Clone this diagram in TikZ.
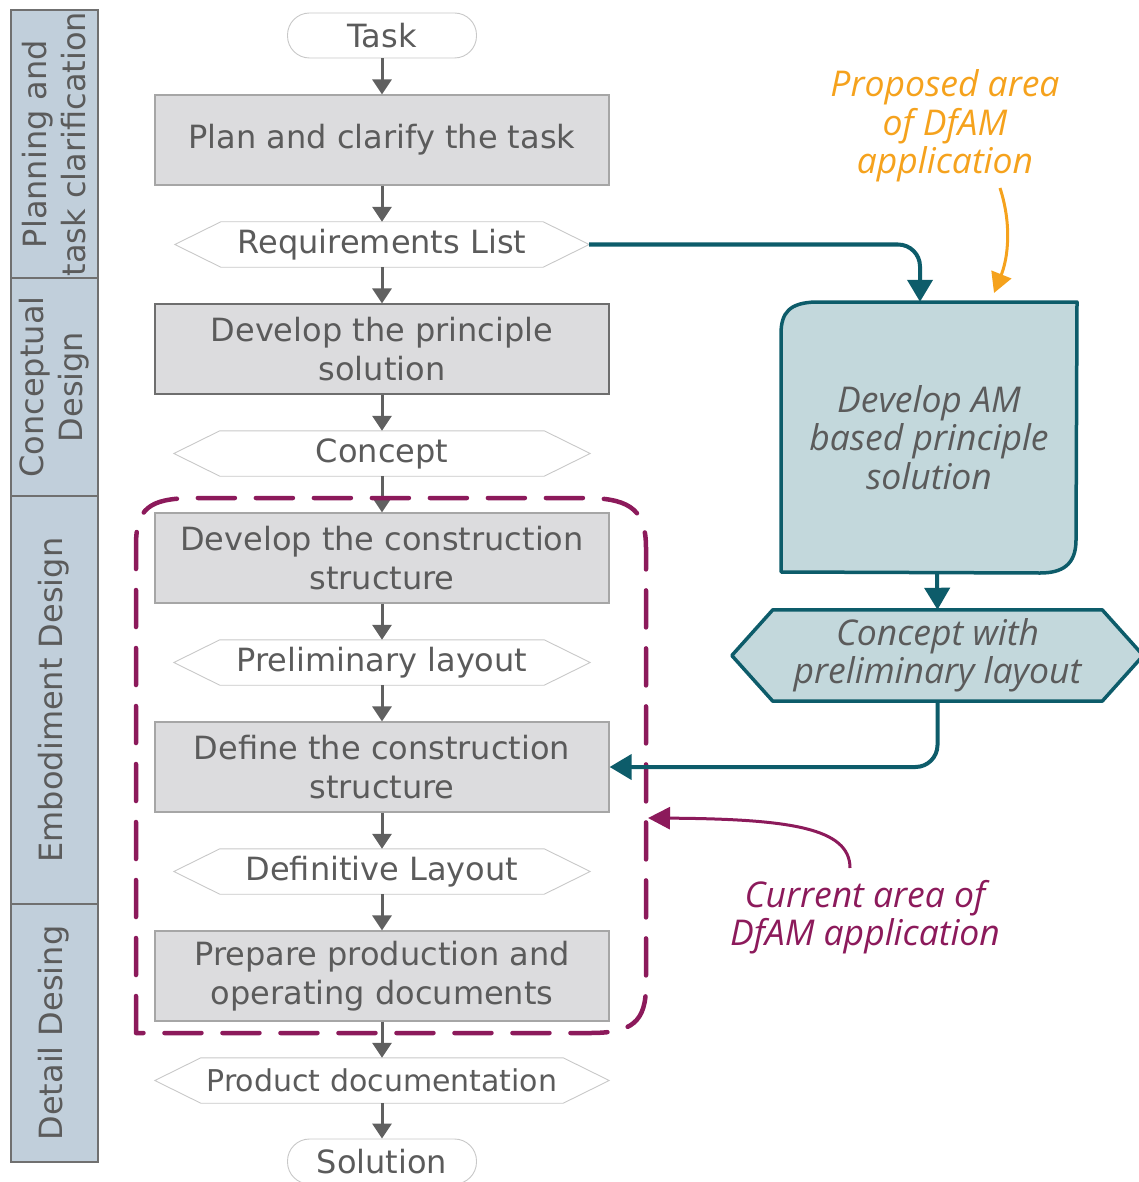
\documentclass[tikz,border=0pt]{standalone}
\usepackage{fontspec}
\setmainfont{DejaVu Sans}
\newfontfamily\handfont{Open Sans}
\usetikzlibrary{arrows.meta,backgrounds}
\definecolor{txtgray}{HTML}{5B5B5B}
\definecolor{boxfill}{HTML}{DCDCDE}
\definecolor{boxedge}{HTML}{A6A6A6}
\definecolor{boxedgedark}{HTML}{6E6E6E}
\definecolor{hexedge}{HTML}{C8C8C8}
\definecolor{phasefill}{HTML}{C1CFDB}
\definecolor{phaseedge}{HTML}{707070}
\definecolor{tealc}{HTML}{0D5C6A}
\definecolor{tealfill}{HTML}{C3D8DC}
\definecolor{purp}{HTML}{8C1A5B}
\definecolor{orng}{HTML}{F5A21D}
\definecolor{arrgray}{HTML}{606060}
\newcommand{\mainfs}{\fontsize{32}{39}\selectfont}
\newcommand{\handfs}{\handfont\itshape\fontsize{35.5}{38.5}\selectfont}
\begin{document}
\begin{tikzpicture}[x=1pt,y=-1pt,
  procbox/.style={draw=boxedge, fill=boxfill, line width=1.2pt, minimum width=454pt, minimum height=90pt, inner sep=0pt, text=txtgray, font=\mainfs, align=center},
  hexnode/.style={minimum width=416pt, minimum height=45pt, inner sep=0pt, text=txtgray, font=\mainfs, align=center},
  hexline/.style={draw=hexedge, line width=0.9pt},
  pill/.style={draw=hexedge, fill=white, line width=0.9pt, rounded corners=22pt, minimum width=189pt, minimum height=45pt, inner sep=0pt, text=txtgray, font=\mainfs},
  phasebox/.style={draw=phaseedge, fill=phasefill, line width=1.5pt},
  phasetext/.style={rotate=90, text=txtgray, font=\mainfs, align=center, inner sep=0pt},
  flow/.style={draw=arrgray, line width=3pt, -{Triangle[length=15pt,width=19pt]}},
  tealarrow/.style={draw=tealc, line width=4pt, rounded corners=22pt, -{Triangle[length=22pt,width=25pt]}},
  handtxt/.style={font=\handfs, align=center, inner sep=0pt}
]
\useasboundingbox (0,0) rectangle (1139,1182);

% phase column
\draw[phasebox] (11,10) rectangle (98,278);
\draw[phasebox] (11,278) rectangle (98,496);
\draw[phasebox] (11,496) rectangle (98,904);
\draw[phasebox] (11,904) rectangle (98,1162);
\node[phasetext] (ph1) at (54,144) {Planning and\\task clarification};
\node[phasetext] (ph2) at (54,387) {Conceptual\\Design};
\node[phasetext] (ph3) at (54,700) {Embodiment Design};
\node[phasetext] (ph4) at (54,1033) {Detail Desing};

% main flow nodes
\node[pill] (task) at (382,35.5) {Task};
\node[procbox] (plan) at (382,140) {Plan and clarify the task};
\node[hexnode, minimum width=414pt] (req) at (382,244.5) {Requirements List};
\node[procbox, draw=boxedgedark] (prin) at (382,349) {Develop the principle\\solution};
\node[hexnode] (conc) at (382,453.5) {Concept};
\node[procbox] (devc) at (382,558) {Develop the construction\\structure};
\node[hexnode] (prel) at (382,662.5) {Preliminary layout};
\node[procbox] (defc) at (382,767) {Define the construction\\structure};
\node[hexnode] (defl) at (382,871.5) {Definitive Layout};
\node[procbox] (prep) at (382,976) {Prepare production and\\operating documents};
\node[hexnode, minimum width=454pt, font=\fontsize{30}{36}\selectfont] (prod) at (382,1080.5) {Product documentation};
\node[pill] (sol) at (382,1161.5) {Solution};

% hexagon outlines
\foreach \n in {req,conc,prel,defl,prod}{
  \draw[hexline] (\n.west) -- ([xshift=46pt]\n.north west) -- ([xshift=-46pt]\n.north east) -- (\n.east) -- ([xshift=-46pt]\n.south east) -- ([xshift=46pt]\n.south west) -- cycle;
}

% gray flow arrows
\draw[flow] (task.south) -- (plan.north);
\draw[flow] (plan.south) -- (req.north);
\draw[flow] (req.south) -- (prin.north);
\draw[flow] (prin.south) -- (conc.north);
\draw[flow] (conc.south) -- (devc.north);
\draw[flow] (devc.south) -- (prel.north);
\draw[flow] (prel.south) -- (defc.north);
\draw[flow] (defc.south) -- (defl.north);
\draw[flow] (defl.south) -- (prep.north);
\draw[flow] (prep.south) -- (prod.north);
\draw[flow] (prod.south) -- (sol.north);

% dashed current area frame
\draw[purp, line width=4.5pt, dash pattern=on 37pt off 21pt, line cap=round]
  (136,1033) -- (136,545) .. controls (136,508) and (150,499) .. (190,498)
  -- (590,498) .. controls (632,499) and (646,512) .. (646,548)
  -- (646,985) .. controls (646,1022) and (632,1033) .. (590,1033) -- cycle;

% right side: AM box
\node[handtxt, text=txtgray, minimum width=296pt, minimum height=271pt] (am) at (929,437.5) {Develop AM\\based principle\\solution};
\begin{scope}[on background layer]
\draw[tealc, fill=tealfill, line width=3.5pt, line join=round] (781,572) -- (781,334) .. controls (781,312) and (790,303) .. (815,302)
  -- (1077,302) -- (1076,540) .. controls (1076,565) and (1062,573) .. (1040,573) -- cycle;
\end{scope}

% concept with preliminary layout hexagon
\node[handtxt, text=txtgray, minimum width=411pt, minimum height=91pt] (cwp) at (937.5,655.5) {Concept with\\preliminary layout};
\begin{scope}[on background layer]
\draw[tealc, fill=tealfill, line width=3.5pt, line join=round]
  (cwp.west) -- ([xshift=41pt]cwp.north west) -- ([xshift=-41pt]cwp.north east) -- (cwp.east)
  -- ([xshift=-41pt]cwp.south east) -- ([xshift=41pt]cwp.south west) -- cycle;
\end{scope}

% teal connectors
\draw[tealarrow] (req.east) -| ([xshift=-9pt]am.north);
\draw[tealarrow, rounded corners=0pt] ([xshift=8pt]am.south) -- (cwp.north);
\draw[tealarrow] (cwp.south) |- (defc.east);

% annotations
\node[handtxt, text=orng] (prop) at (945,126) {Proposed area\\of DfAM\\application};
\coordinate (propstart) at (1000,188);
\coordinate (propend) at (994,293);
\draw[orng, line width=3pt, -{Triangle[length=20pt,width=21pt]}] (propstart) .. controls (1012,225) and (1008,258) .. (propend);

\node[handtxt, text=purp] (cur) at (865,917) {Current area of\\DfAM application};
\coordinate (curstart) at (850,868);
\coordinate (curend) at (648,818);
\draw[purp, line width=3pt, -{Triangle[length=22pt,width=22pt]}] (curstart) .. controls (850,828) and (790,819) .. (curend);
\end{tikzpicture}
\end{document}
